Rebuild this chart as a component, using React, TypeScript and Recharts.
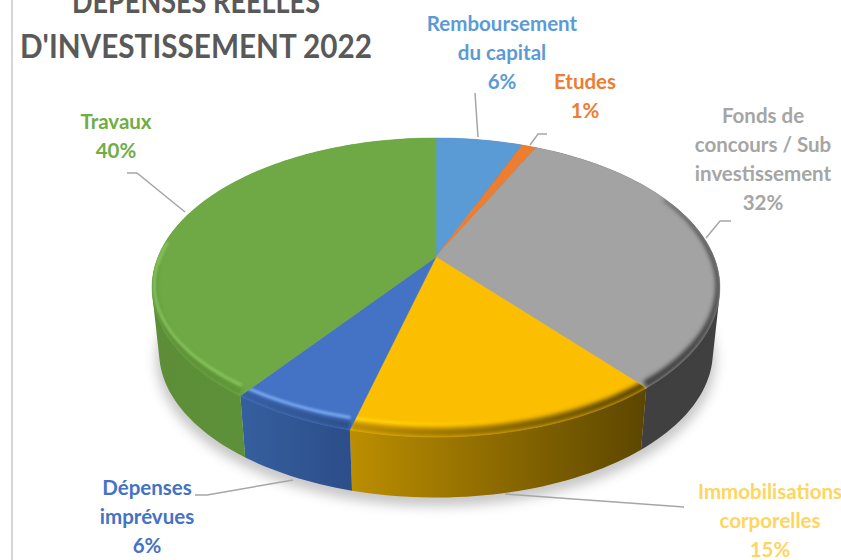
import React from 'react';
import { PieChart, Pie } from 'recharts';

// Budget shares, clockwise from twelve o'clock
const categories = [
  'Remboursement\ndu capital',
  'Etudes',
  'Fonds de\nconcours / Sub\ninvestissement',
  'Immobilisations\ncorporelles',
  'Dépenses\nimprévues',
  'Travaux',
];
const shares = [6, 1, 32, 15, 6, 40];

const faceColors = ['#5B9BD5', '#ED7D31', '#A3A3A3', '#FBBE00', '#4472C4', '#6EA945'];
const labelColors = ['#5B9BD5', '#ED7D31', '#A5A5A5', '#FFD560', '#4472C4', '#70AD47'];
const wallFrom = ['#3F6F9C', '#A85820', '#404040', '#BC8E00', '#365F9F', '#5C8E38'];
const wallTo = ['#3F6F9C', '#A85820', '#404040', '#5C4600', '#2C4E89', '#5F9639'];
const glintColors = ['#5B9BD5', '#ED7D31', '#A3A3A3', '#FFD80A', '#7AA8F0', '#84C35C'];
const glintFade = [1, 1, 0, 0, 1, 1];
const glintStrength = [0, 0, 0, 1, 1, 1];
// how far round towards the back each slice keeps its bevel
const bevelReach = [-0.05, -0.05, 0.45, -0.05, -0.05, -0.05];

const titleLines = ['DÉPENSES RÉELLES', "D'INVESTISSEMENT 2022"];

const tableData = categories.map((name, slot) => ({ name, value: shares[slot], slot }));
const wholeData = [{ name: 'total', value: shares.reduce((a, b) => a + b, 0), slot: 0 }];

// Label anchors (centre x, first line y) and leader polylines, same order as categories
const labelLayout = [
  { x: 502, y: 31, line: '475,93 478,137' },
  { x: 585, y: 89, line: '547,134 538,134 530,145' },
  { x: 763, y: 123, line: '731,221 720,221 706,238' },
  { x: 770, y: 499, line: '684,507 505,494' },
  { x: 147, y: 495, line: '195,495 207,495 293,480' },
  { x: 116, y: 129, line: '127,173 137,173 185,212' },
];
const LINE_GAP = 29;

// Tilted disc: the far side is foreshortened, so the apex sits above the ellipse centre
const TILT = 0.5155;
const PERSPECTIVE = 0.204;
const BASE_SCALE = 0.975;
const DEPTH = 65;

type Pt = { x: number; y: number; v: number };
type XY = { x: number; y: number };

const project = (cx: number, cy: number, rx: number, deg: number): Pt => {
  const rad = (deg * Math.PI) / 180;
  const u = Math.cos(rad);
  const v = Math.sin(rad);
  const den = 1 + PERSPECTIVE * v;
  return { x: cx + (rx * u) / den, y: cy - (rx * TILT * v) / den, v };
};

const arcPoints = (cx: number, cy: number, rx: number, start: number, end: number) => {
  const steps = Math.max(2, Math.ceil(Math.abs(end - start) / 1.5));
  const pts: Pt[] = [];
  for (let i = 0; i <= steps; i++) {
    pts.push(project(cx, cy, rx, start + ((end - start) * i) / steps));
  }
  return pts;
};

const toPath = (pts: XY[]) =>
  pts.map((p, i) => `${i ? 'L' : 'M'}${p.x.toFixed(2)} ${p.y.toFixed(2)}`).join(' ');

const lowered = (cx: number, cy: number, scale: number, drop: number) => (p: Pt) => ({
  x: cx + (p.x - cx) * scale,
  y: cy + (p.y - cy) * scale + drop,
});

// Pull a rim point inwards: mostly sideways at the flanks, upwards at the front
const insetRim = (cx: number, side: number, up: number) => (p: Pt) => ({
  x: cx + (p.x - cx) * side,
  y: p.y - up * Math.max(0, -p.v),
  v: p.v,
});

// Wall as one quad per arc step, all wound the same way so the flanks fill under nonzero
const wallPath = (cx: number, cy: number, edge: Pt[]) => {
  const base = edge.map(lowered(cx, cy, BASE_SCALE, DEPTH));
  const quads: string[] = [];
  for (let i = 0; i < edge.length - 1; i++) {
    const quad: XY[] = [edge[i], edge[i + 1], base[i + 1], base[i]];
    const area = quad.reduce((sum, p, k) => {
      const q = quad[(k + 1) % 4];
      return sum + p.x * q.y - q.x * p.y;
    }, 0);
    quads.push(toPath(area < 0 ? [...quad].reverse() : quad) + ' Z');
  }
  return quads.join(' ');
};

const ShadowShape = ({ cx, cy, outerRadius, startAngle, endAngle }: any) => {
  const edge = arcPoints(cx, cy, outerRadius, startAngle, endAngle);
  const pts = edge.map(lowered(cx, cy, 0.985, 72));
  return <path d={toPath(pts) + ' Z'} fill="#000" fillOpacity={0.22} filter="url(#pieShadow)" />;
};

const WallShape = ({ cx, cy, outerRadius, startAngle, endAngle, payload }: any) => {
  const edge = arcPoints(cx, cy, outerRadius, startAngle, endAngle);
  return <path d={wallPath(cx, cy, edge)} fill={`url(#wall${payload.slot})`} />;
};

const TopShape = ({ cx, cy, outerRadius, startAngle, endAngle, payload }: any) => {
  const slot = payload.slot;
  const edge = arcPoints(cx, cy, outerRadius, startAngle, endAngle);
  const face = toPath([{ x: cx, y: cy }, ...edge]) + ' Z';
  // soft bevel: the wall colour bleeds onto the rim, with a thin glint just inside it
  const bevelEdge = edge.filter((p) => p.v < bevelReach[slot]);
  const bevelBand = bevelEdge.map(insetRim(cx, 0.985, 9));
  const glint = edge.filter((p) => p.v < 0.12).map(insetRim(cx, 0.992, 13));
  return (
    <g>
      <clipPath id={`solid${slot}`}>
        <path d={face} />
        <path d={wallPath(cx, cy, edge)} />
      </clipPath>
      <path d={face} fill={faceColors[slot]} stroke={faceColors[slot]} strokeWidth={0.5} />
      <g clipPath={`url(#solid${slot})`}>
        {bevelEdge.length > 1 && (
          <path
            d={toPath([...bevelBand, ...[...bevelEdge].reverse()]) + ' Z'}
            fill={`url(#wall${slot})`}
            filter="url(#rimSoft)"
          />
        )}
        {glint.length > 1 && glintStrength[slot] > 0 && (
          <path
            d={toPath(glint)}
            fill="none"
            stroke={`url(#glint${slot})`}
            strokeWidth={3}
            filter="url(#glintSoft)"
          />
        )}
      </g>
    </g>
  );
};

const renderLabel = ({ payload, name, value, index }: any) => {
  const slot = payload?.slot ?? index;
  const spot = labelLayout[slot];
  const lines = [...String(name).split('\n'), `${value}%`];
  return (
    <g key={slot}>
      <polyline points={spot.line} fill="none" stroke="#A6A6A6" strokeWidth={1.5} />
      <text
        textAnchor="middle"
        fontFamily="Lato"
        fontWeight={700}
        fontSize={20.5}
        fill={labelColors[slot]}
      >
        {lines.map((line, i) => (
          <tspan key={i} x={spot.x} y={spot.y + i * LINE_GAP}>
            {line}
          </tspan>
        ))}
      </text>
    </g>
  );
};

export default function App() {
  return (
    <div style={{ position: 'absolute', left: 0, top: 0, width: 841, height: 560, overflow: 'hidden', background: '#fff' }}>
      <div style={{ position: 'absolute', left: 11, top: 0, width: 2, height: 560, background: '#D6D6D6' }} />
      <PieChart width={841} height={560} margin={{ top: 0, right: 0, bottom: 0, left: 0 }}>
        <defs>
          <filter id="pieShadow" x="-10%" y="-10%" width="120%" height="120%">
            <feGaussianBlur stdDeviation="6" />
          </filter>
          <filter id="rimSoft" x="-10%" y="-20%" width="120%" height="140%">
            <feGaussianBlur stdDeviation="2" />
          </filter>
          <filter id="glintSoft" x="-10%" y="-20%" width="120%" height="140%">
            <feGaussianBlur stdDeviation="1.2" />
          </filter>
          {categories.map((_, i) => (
            <linearGradient key={`w${i}`} id={`wall${i}`} x1="0" y1="0" x2="1" y2="0">
              <stop offset="0%" stopColor={wallFrom[i]} />
              <stop offset="100%" stopColor={wallTo[i]} />
            </linearGradient>
          ))}
          {categories.map((_, i) => (
            <linearGradient key={`g${i}`} id={`glint${i}`} x1="0" y1="0" x2="1" y2="0">
              <stop offset="0%" stopColor={glintColors[i]} />
              <stop offset="55%" stopColor={glintColors[i]} stopOpacity={glintFade[i]} />
            </linearGradient>
          ))}
        </defs>
        <text x={196} y={13} textAnchor="middle" textLength={248} lengthAdjust="spacingAndGlyphs" fontFamily="Lato" fontWeight={700} fontSize={32} fill="#595959">
          {titleLines[0]}
        </text>
        <text x={196} y={58} textAnchor="middle" textLength={352} lengthAdjust="spacingAndGlyphs" fontFamily="Lato" fontWeight={700} fontSize={32} fill="#595959">
          {titleLines[1]}
        </text>
        <Pie
          data={wholeData}
          dataKey="value"
          cx={436}
          cy={257}
          outerRadius={278}
          startAngle={90}
          endAngle={-270}
          stroke="none"
          shape={ShadowShape}
          isAnimationActive={false}
        />
        <Pie
          data={tableData}
          dataKey="value"
          cx={436}
          cy={257}
          outerRadius={278}
          startAngle={90}
          endAngle={-270}
          stroke="none"
          shape={WallShape}
          isAnimationActive={false}
        />
        <Pie
          data={tableData}
          dataKey="value"
          cx={436}
          cy={257}
          outerRadius={278}
          startAngle={90}
          endAngle={-270}
          stroke="none"
          shape={TopShape}
          label={renderLabel}
          labelLine={false}
          isAnimationActive={false}
        />
      </PieChart>
    </div>
  );
}
